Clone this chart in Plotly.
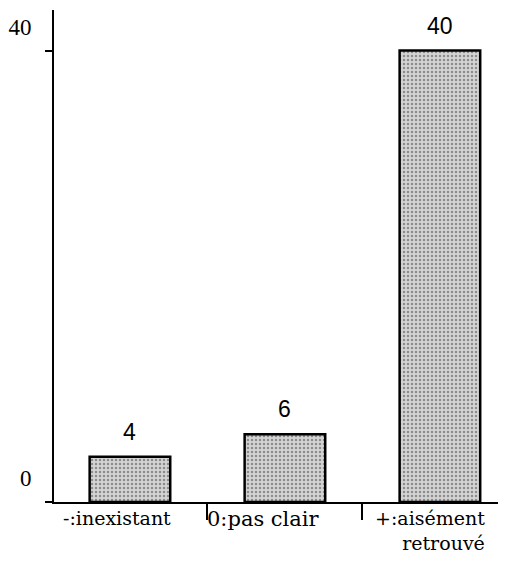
"""Bar chart: three answer categories with counts."""
import plotly.graph_objects as go

categories = ['-:inexistant', '0:pas clair', '+:aisément<br>retrouvé']
counts = [4, 6, 40]
y_ticks = [0, 40]

fig = go.Figure()

fig.add_trace(go.Bar(
    x=[0, 1, 2],
    y=counts,
    width=0.52,
    marker=dict(
        color='#d0d0d0',
        line=dict(color='black', width=2.5),
        pattern=dict(shape='.', size=4, solidity=0.3,
                     fgcolor='#444444', bgcolor='#d4d4d4'),
    ),
    hoverinfo='skip',
))

# value labels above the bars
for i, v in enumerate(counts):
    fig.add_annotation(x=i, y=v, text=str(v), showarrow=False,
                       yanchor='bottom', yshift=10,
                       font=dict(family='Liberation Sans', size=23, color='black'))

# category labels under the axis (last one is right aligned on two lines)
label_shift = [-13, -21, -10]
label_size = [19, 21, 19]
for i, name in enumerate(categories):
    fig.add_annotation(x=i, y=0, text=name, showarrow=False,
                       yanchor='top', yshift=-3, align='right',
                       xshift=label_shift[i],
                       font=dict(family='DejaVu Serif', size=label_size[i], color='black'))

fig.update_xaxes(
    range=[-0.49, 2.478],
    tickvals=[0.5, 1.5],
    ticktext=['', ''],
    ticks='outside', ticklen=16, tickwidth=1.5, tickcolor='black',
    showline=True, linecolor='black', linewidth=2,
    showgrid=False, zeroline=False, automargin=False,
)

fig.update_yaxes(
    range=[0, 43.6],
    tickvals=y_ticks,
    ticks='outside', ticklen=7, tickwidth=1.5, tickcolor='black',
    ticklabelshift=-24, ticklabelstandoff=9,
    tickfont=dict(family='Liberation Serif', size=23, color='black'),
    showline=True, linecolor='black', linewidth=2,
    showgrid=False, zeroline=False, automargin=False,
)

# the page body adds an 8px offset, so margins are reduced accordingly
fig.update_layout(
    width=506, height=562,
    margin=dict(l=46, r=0, t=2, b=68),
    plot_bgcolor='white', paper_bgcolor='white',
    showlegend=False,
)

fig.write_html("out.html")
